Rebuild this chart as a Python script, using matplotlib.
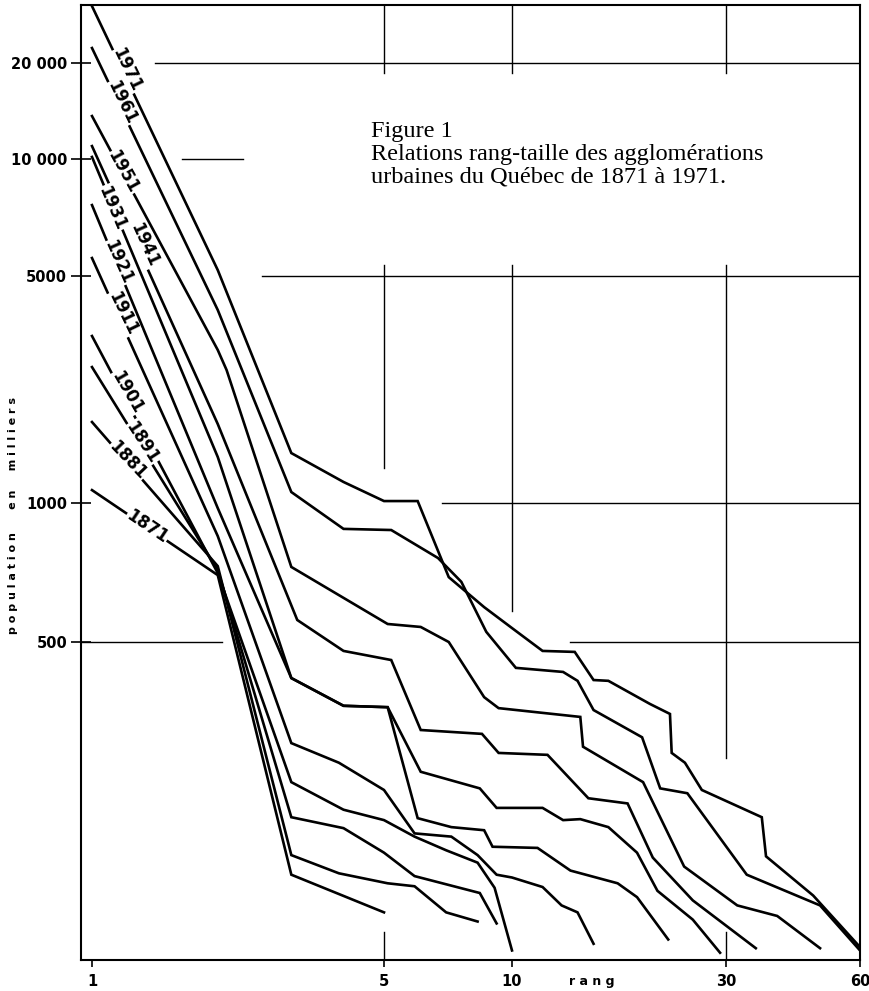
import numpy as np
import matplotlib
matplotlib.use("Agg")
import matplotlib.pyplot as plt
from matplotlib.ticker import FixedLocator, FixedFormatter, NullLocator

# -------------------------------------------------
# Data (rang, population en milliers)
# -------------------------------------------------
years = [1971, 1961, 1951, 1941, 1931, 1921, 1911, 1901, 1891, 1881, 1871]

rank_1971 = [1, 2, 3, 4, 5, 6, 7.1, 8.6, 10, 11.7, 13.8, 15.2, 16.4, 20.3,
             22.5, 22.7, 24.3, 26.5, 36.1, 36.9, 47.1, 60]
pop_1971 = [28900, 5180, 1425, 1161, 1014, 1014, 691, 595, 536, 472, 469,
            391, 389, 335, 314, 244, 229, 192, 161, 125, 97, 69.5]

rank_1961 = [1, 2, 3, 4, 5.2, 6.7, 7.6, 8.7, 10.2, 13.0, 14.0, 15.2, 19.5,
             21.4, 24.6, 33.4, 48.8, 60]
pop_1961 = [22040, 3930, 1081, 879, 874, 760, 675, 526, 423, 412, 389, 322,
            270, 194, 188, 111, 91, 68]

rank_1951 = [1, 2, 2.1, 3, 5.1, 6.1, 7.1, 8.6, 9.3, 14.2, 14.4, 19.6, 24.2,
             31.8, 39.1, 48.8]
pop_1951 = [13640, 2960, 2567, 727, 547, 539, 500, 350, 326, 308, 254, 202,
            117, 91, 85, 69]

rank_1941 = [1, 2, 3.1, 4, 5.2, 6.1, 8.5, 9.3, 12.0, 14.8, 18.1, 20.6, 25.3,
             35.0]
pop_1941 = [10980, 1751, 558, 472, 445, 283, 276, 244, 241, 182, 176, 124,
            94, 69]

rank_1931 = [1, 2, 3, 4, 5.1, 6.1, 8.4, 9.2, 11.7, 13.0, 14.2, 16.4, 19.0,
             21.1, 25.3, 29.1]
pop_1931 = [10150, 1386, 396, 331, 328, 216, 194, 171, 171, 158, 159, 151,
            128, 100, 83, 67]

rank_1921 = [1, 2, 3, 4, 5.1, 6.0, 7.2, 8.6, 9.0, 11.4, 13.5, 17.2, 19.0,
             22.3]
pop_1921 = [7613, 975, 396, 331, 328, 160, 151, 148, 133, 132, 114, 105,
            96, 73]

rank_1911 = [1, 2, 3, 3.9, 5.0, 5.9, 7.2, 8.3, 9.2, 10, 11.7, 12.9, 14.0,
             15.2]
pop_1911 = [5563, 848, 260, 229, 192, 145, 142, 126, 111, 109, 102.5, 91,
            87, 71]

rank_1901 = [1, 2, 3, 4, 5, 5.9, 7.0, 8.3, 9.1, 10]
pop_1901 = [3268, 705, 202, 169, 158, 142, 130, 120, 102, 68]

rank_1891 = [1, 2, 3, 4, 5.0, 5.9, 8.4, 9.2]
pop_1891 = [2622, 716, 161, 150, 128, 110, 98.6, 81]

rank_1881 = [1, 2, 3, 3.9, 5.1, 5.9, 7.0, 8.3]
pop_1881 = [1776, 730, 126, 112, 105, 103, 87, 82]

rank_1871 = [1, 2, 3, 5.0]
pop_1871 = [1096, 698, 111, 87]

series = {
    1971: (rank_1971, pop_1971), 1961: (rank_1961, pop_1961),
    1951: (rank_1951, pop_1951), 1941: (rank_1941, pop_1941),
    1931: (rank_1931, pop_1931), 1921: (rank_1921, pop_1921),
    1911: (rank_1911, pop_1911), 1901: (rank_1901, pop_1901),
    1891: (rank_1891, pop_1891), 1881: (rank_1881, pop_1881),
    1871: (rank_1871, pop_1871),
}

# label anchor on each curve (rang, population) and angle on the page
label_rank = [1.213, 1.18, 1.186, 1.332, 1.116, 1.154, 1.186, 1.213, 1.317, 1.22, 1.354]
label_pop = [19010, 15090, 9259, 6006, 7479, 5433, 3846, 2197, 1530, 1356, 887]
label_angle = [-64.5, -64, -61, -65.5, -67, -66, -64, -60, -57, -46.5, -34]

y_ticks = [500, 1000, 5000, 10000, 20000]
y_tick_labels = ['500', '1000', '5000', '10 000', '20 000']
x_ticks = [1, 5, 10, 30, 60]
x_tick_labels = ['1', '5', '10', '30', '60']

title = ("Figure 1\n"
         "Relations rang-taille des agglomérations\n"
         "urbaines du Québec de 1871 à 1971.")

# -------------------------------------------------
# Hand-drawn log axes: tick spacing on the original is not quite uniform,
# so each axis is a piecewise log scale pinned on the printed ticks
# -------------------------------------------------
LX = np.log10([0.5, 1, 5, 10, 30, 60, 100])
PX = np.array([-34.4, 92, 384, 512, 726, 860, 958.7])
LY = np.log10([50, 500, 1000, 5000, 10000, 20000, 50000])
PY = np.array([998, 642, 503, 276, 159, 63, -78.7])


def fwd_x(v):
    return np.interp(np.log10(np.maximum(v, 1e-300)), LX, PX)


def inv_x(t):
    return 10 ** np.interp(t, PX, LX)


def fwd_y(v):
    return -np.interp(np.log10(np.maximum(v, 1e-300)), LY, PY)


def inv_y(t):
    return 10 ** np.interp(-np.asarray(t), PY[::-1], LY[::-1])


# -------------------------------------------------
# Figure
# -------------------------------------------------
fig = plt.figure(figsize=(8.7, 9.91), dpi=100)
ax = fig.add_axes([81 / 870, 31 / 991, 779 / 870, 955 / 991])
ax.set_xscale('function', functions=(fwd_x, inv_x))
ax.set_yscale('function', functions=(fwd_y, inv_y))
ax.set_xlim(0.9415, 60)
ax.set_ylim(63.93, 29110)

for s in ax.spines.values():
    s.set_linewidth(1.5)

# broken grid lines, as on the original drawing (axes fractions)
h_segments = [(20000, 0.095, 1.0), (10000, 0.1297, 0.208), (5000, 0.2324, 1.0),
              (1000, 0.4634, 1.0), (500, 0.0, 0.181), (500, 0.6277, 1.0)]
v_segments = [(5, 0.9288, 1.0), (5, 0.515, 0.7277), (5, 0.0, 0.0293),
              (10, 0.9288, 1.0), (10, 0.3654, 0.7277),
              (30, 0.9288, 1.0), (30, 0.2115, 0.7277), (30, 0.0, 0.0293)]
for y, x0, x1 in h_segments:
    ax.axhline(y, xmin=x0, xmax=x1, color='black', lw=1.0, zorder=1)
for x, y0, y1 in v_segments:
    ax.axvline(x, ymin=y0, ymax=y1, color='black', lw=1.0, zorder=1)

for year in years:
    r, p = series[year]
    ax.plot(r, p, color='black', lw=1.9, solid_joinstyle='miter', zorder=3)

for year, lr, lp, ang in zip(years, label_rank, label_pop, label_angle):
    ax.text(lr, lp, str(year), rotation=ang, rotation_mode='anchor',
            ha='center', va='center', fontsize=12, fontweight='bold',
            bbox=dict(facecolor='white', edgecolor='none', pad=0.6),
            zorder=5)

ax.text(0.3723, 0.8785, title, transform=ax.transAxes, ha='left', va='top',
        fontsize=17.5, family='Liberation Serif', linespacing=1.1)

# axes ticks
ax.yaxis.set_major_locator(FixedLocator(y_ticks))
ax.yaxis.set_major_formatter(FixedFormatter(y_tick_labels))
ax.yaxis.set_minor_locator(NullLocator())
ax.xaxis.set_major_locator(FixedLocator(x_ticks))
ax.xaxis.set_major_formatter(FixedFormatter(x_tick_labels))
ax.xaxis.set_minor_locator(NullLocator())
ax.tick_params(axis='y', direction='inout', length=14, width=1.2, pad=3,
               labelsize=10.5)
ax.tick_params(axis='x', direction='out', length=5, width=1.2, pad=5,
               labelsize=10.5)
for lbl in ax.get_xticklabels() + ax.get_yticklabels():
    lbl.set_fontweight('bold')

fig.text(13 / 870, 1 - 516 / 991,
         'p o p u l a t i o n      e n     m i l l i e r s',
         rotation=90, ha='center', va='center', fontsize=8, fontweight='bold')
fig.text(592 / 870, 1 - 981 / 991, 'r a n g', ha='center', va='center',
         fontsize=9, fontweight='bold')

fig.savefig('out.png', dpi=100)
